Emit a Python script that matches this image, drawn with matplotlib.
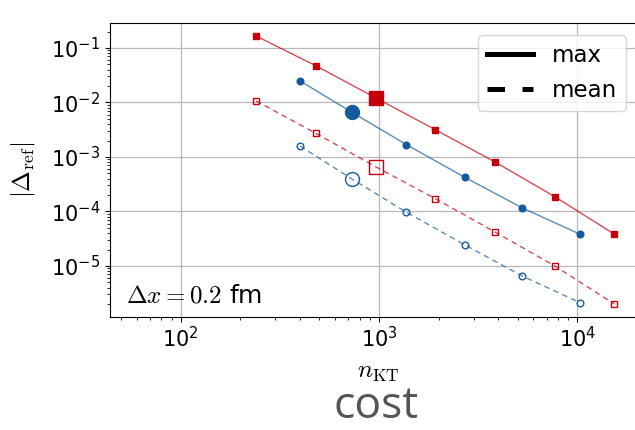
"""収束性の比較プロット (max / mean 誤差 vs n_KT)."""

import matplotlib.pyplot as plt
from matplotlib.lines import Line2D

plt.rcParams["mathtext.fontset"] = "cm"

# データ
n_red = [240, 480, 960, 1920, 3840, 7680, 15360]
max_red = [0.166, 0.0473, 0.0122, 3.17e-3, 8.1e-4, 1.87e-4, 3.82e-5]
mean_red = [0.01066, 2.72e-3, 6.63e-4, 1.72e-4, 4.2e-5, 1.0e-5, 2.0e-6]

n_blue = [400, 730, 1375, 2700, 5250, 10300]
max_blue = [0.0248, 6.6e-3, 1.68e-3, 4.25e-4, 1.17e-4, 3.82e-5]
mean_blue = [1.59e-3, 3.94e-4, 9.66e-5, 2.45e-5, 6.56e-6, 2.12e-6]

# 強調する点の番号
hi_red = 2
hi_blue = 1

RED = "#c4000b"
BLUE = "#155a9f"


def plot_series(ax, x, y, color, marker, filled, dashed, hi):
    """線と印をプロットし, hi 番目の点を大きく描く."""
    ls = (0, (4, 3)) if dashed else "-"
    ax.plot(x, y, color=color, lw=1.0, ls=ls, alpha=0.7)
    fc = color if filled else "none"
    ms = 5 if marker == "s" else 4.8
    xs = [v for i, v in enumerate(x) if i != hi]
    ys = [v for i, v in enumerate(y) if i != hi]
    ax.plot(xs, ys, ls="none", marker=marker, ms=ms, mfc=fc, mec=color, mew=1.0)
    ax.plot(x[hi], y[hi], ls="none", marker=marker, ms=10, mfc=fc, mec=color,
            mew=1.0)


fig = plt.figure(figsize=(6.35, 4.3), dpi=100)
ax = fig.add_axes([0.173, 0.2635, 0.844, 0.6835])

plot_series(ax, n_red, max_red, RED, "s", True, False, hi_red)
plot_series(ax, n_blue, max_blue, BLUE, "o", True, False, hi_blue)
plot_series(ax, n_red, mean_red, RED, "s", False, True, hi_red)
plot_series(ax, n_blue, mean_blue, BLUE, "o", False, True, hi_blue)

ax.set_xscale("log")
ax.set_yscale("log")
ax.set_xlim(44, 22100)
ax.set_ylim(1.17e-6, 0.29)
ax.grid(True, which="major", color="#b8b8b8", lw=0.9)
ax.set_axisbelow(True)
ax.tick_params(labelsize=15)
ax.spines["right"].set_visible(False)

ax.set_xlabel(r"$n_{\rm KT}$", fontsize=18, labelpad=6)
ax.set_ylabel(r"$|\Delta_{\rm ref}|$", fontsize=18, labelpad=10)

ax.text(0.03, 0.047, r"$\Delta x = 0.2$ fm", transform=ax.transAxes,
        fontsize=18, va="baseline")

handles = [
    Line2D([], [], color="k", lw=3.6, ls="-"),
    Line2D([], [], color="k", lw=3.6, ls=(0, (3.5, 3.5))),
]
ax.legend(handles, ["max", "mean"], loc="upper right",
          bbox_to_anchor=(0.963, 0.958), borderaxespad=0, fontsize=16.5)

fig.text(376 / 635, 0.003, "cost", fontsize=32, color="#555555",
         family="Open Sans", ha="center", va="bottom")

fig.savefig("out.png", dpi=100)
